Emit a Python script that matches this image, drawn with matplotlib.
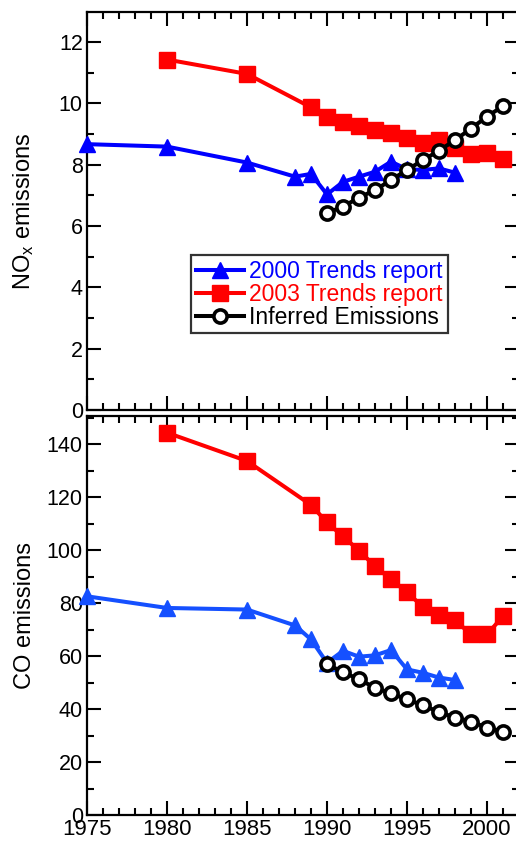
import matplotlib
matplotlib.use("Agg")
import matplotlib.pyplot as plt
from matplotlib.ticker import MultipleLocator

plt.rcParams['font.family'] = ['Liberation Sans', 'DejaVu Sans']
plt.rcParams['mathtext.default'] = 'regular'

# NOx emissions by year
nox_2000_years = [1975, 1980, 1985, 1988, 1989, 1990, 1991, 1992, 1993, 1994,
                  1995, 1996, 1997, 1998]
nox_2000 = [8.67, 8.59, 8.07, 7.61, 7.70, 7.03, 7.44, 7.61, 7.77, 8.10,
            7.85, 7.83, 7.88, 7.74]
nox_2003_years = [1980, 1985, 1989, 1990, 1991, 1992, 1993, 1994, 1995, 1996,
                  1997, 1998, 1999, 2000, 2001]
nox_2003 = [11.43, 10.96, 9.87, 9.57, 9.40, 9.26, 9.13, 9.02, 8.86, 8.72,
            8.80, 8.53, 8.35, 8.39, 8.17]
inferred_years = [1990, 1991, 1992, 1993, 1994, 1995, 1996, 1997, 1998, 1999,
                  2000, 2001]
nox_inferred = [6.43, 6.63, 6.93, 7.17, 7.50, 7.83, 8.15, 8.46, 8.80, 9.18,
                9.57, 9.91]

# CO emissions by year
co_2000_years = nox_2000_years
co_2000 = [82.6, 78.2, 77.6, 71.6, 66.3, 57.5, 62.0, 59.8, 60.3, 62.3,
           55.0, 53.7, 51.9, 51.0]
co_2003_years = nox_2003_years
co_2003 = [144.4, 133.7, 117.1, 110.5, 105.2, 99.9, 93.9, 89.1, 84.1, 78.6,
           75.7, 73.6, 68.2, 68.2, 75.1]
co_inferred = [56.9, 54.0, 51.2, 48.1, 45.9, 43.7, 41.4, 38.9, 36.8, 35.3,
               33.0, 31.4]

W, H = 516, 843
fig = plt.figure(figsize=(W / 100, H / 100), dpi=100)


def px_axes(left, top, right, bottom):
    return fig.add_axes([left / W, 1 - bottom / H, (right - left) / W,
                         (bottom - top) / H])


ax1 = px_axes(87, 12, 519, 410)
ax2 = px_axes(87, 416, 519, 815)

LW = 2.9
style_2000 = dict(marker='^', markersize=11, lw=LW, clip_on=False, zorder=3)
style_2003 = dict(marker='s', markersize=11, lw=LW, clip_on=False, zorder=3)
style_inf = dict(marker='o', markersize=9.5, lw=LW, markeredgewidth=2.6,
                 markerfacecolor='white', clip_on=False, zorder=4)

l1, = ax1.plot(nox_2000_years, nox_2000, color='#0000ff',
               label='2000 Trends report', **style_2000)
l2, = ax1.plot(nox_2003_years, nox_2003, color='#ff0000',
               label='2003 Trends report', **style_2003)
l3, = ax1.plot(inferred_years, nox_inferred, color='black',
               label='Inferred Emissions', **style_inf)

ax2.plot(co_2000_years, co_2000, color='#1550ff', **style_2000)
ax2.plot(co_2003_years, co_2003, color='#ff0000', **style_2003)
ax2.plot(inferred_years, co_inferred, color='black', **style_inf)

ax1.set_ylim(0, 12.98)
ax2.set_ylim(0, 150.7)
ax1.yaxis.set_major_locator(MultipleLocator(2))
ax1.yaxis.set_minor_locator(MultipleLocator(1))
ax2.yaxis.set_major_locator(MultipleLocator(20))
ax2.yaxis.set_minor_locator(MultipleLocator(10))

for ax in (ax1, ax2):
    ax.set_xlim(1975, 2002)
    ax.xaxis.set_major_locator(MultipleLocator(5))
    ax.xaxis.set_minor_locator(MultipleLocator(1))
    ax.tick_params(which='both', direction='in', top=True, right=True,
                   width=1.5)
    ax.tick_params(which='major', length=10)
    ax.tick_params(which='minor', length=5)
    ax.tick_params(axis='y', labelsize=15.5, pad=3)
    ax.tick_params(axis='x', labelsize=16, pad=3)
    for s in ax.spines.values():
        s.set_linewidth(1.6)

ax1.tick_params(axis='x', labelbottom=False)

ax1.set_ylabel('NO$_x$ emissions', fontsize=17)
ax2.set_ylabel('CO emissions', fontsize=17)
ax1.yaxis.set_label_coords(-0.118, 0.5)
ax2.yaxis.set_label_coords(-0.118, 0.5)

leg = ax1.legend(handles=[l1, l2, l3], loc='upper left',
                 bbox_to_anchor=(191 / W, 1 - 255 / H),
                 bbox_transform=fig.transFigure, fontsize=16.5,
                 frameon=True, fancybox=False, borderpad=0.2,
                 handlelength=2.1, handletextpad=0.25, labelspacing=0.0,
                 borderaxespad=0)
leg.get_frame().set_edgecolor('black')
leg.get_frame().set_linewidth(1.6)
for txt, line in zip(leg.get_texts(), [l1, l2, l3]):
    txt.set_color(line.get_color())

fig.savefig('out.png', dpi=100)
